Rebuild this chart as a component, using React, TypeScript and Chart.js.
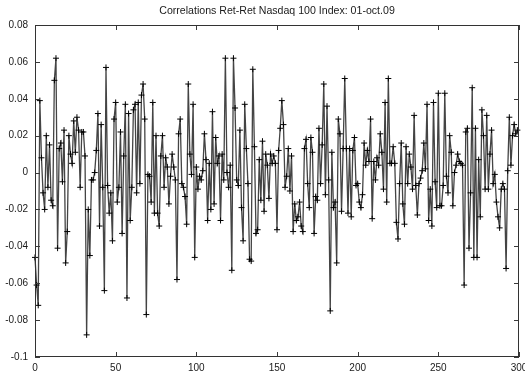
import { useEffect, useRef } from "react";
import { Chart, registerables } from "chart.js";

Chart.register(...registerables);

const titleText = "Correlations Ret-Ret Nasdaq 100 Index: 01-oct.09";

const xTickValues: number[] = [0, 50, 100, 150, 200, 250, 300];
const yTickValues: number[] = [-0.1, -0.08, -0.06, -0.04, -0.02, 0, 0.02, 0.04, 0.06, 0.08];

// Return-return correlations, one per observation (index 0..299)
const corrSeries: number[] = [
  -0.046, -0.061, -0.072, 0.039, 0.008, -0.011, -0.02, 0.02, -0.008, 0.015,
  -0.015, -0.018, 0.05, 0.062, -0.041, 0.013, 0.016, -0.005, 0.023, -0.049,
  -0.032, 0.02, 0.01, 0.005, 0.028, 0.011, 0.03, 0.023, -0.008, 0.022,
  0.022, 0.009, -0.088, -0.02, -0.045, -0.004, -0.004, 0.0, 0.012, 0.032,
  -0.029, 0.026, -0.008, -0.064, 0.057, -0.007, -0.022, -0.011, -0.037, 0.029,
  0.038, -0.016, -0.008, 0.022, -0.033, 0.009, 0.037, -0.068, 0.032, -0.026,
  -0.008, 0.034, 0.037, -0.011, 0.038, -0.006, 0.042, 0.048, 0.029, -0.077,
  -0.001, -0.002, -0.016, 0.038, -0.022, 0.02, -0.022, -0.029, 0.009, 0.02,
  -0.008, 0.008, 0.003, -0.017, -0.002, 0.01, 0.003, -0.004, -0.058, 0.021,
  0.029, -0.006, -0.008, -0.013, -0.028, 0.048, 0.01, -0.001, 0.037, -0.046,
  0.003, -0.009, -0.002, -0.004, 0.001, 0.021, 0.007, -0.026, 0.005, -0.02,
  0.033, -0.017, 0.019, 0.005, 0.009, -0.026, 0.01, -0.004, 0.062, 0.0,
  -0.008, 0.004, -0.053, 0.062, 0.035, -0.004, -0.007, 0.023, -0.019, -0.037,
  0.037, 0.013, -0.006, -0.047, -0.048, 0.056, 0.014, -0.033, -0.031, 0.007,
  -0.015, 0.017, -0.021, 0.01, 0.004, -0.014, 0.01, 0.005, 0.009, 0.005,
  -0.031, 0.012, 0.024, 0.039, 0.026, -0.008, -0.002, 0.013, -0.01, 0.009,
  -0.032, -0.017, -0.026, -0.024, -0.016, -0.029, -0.032, 0.013, 0.018, -0.006,
  -0.019, 0.019, 0.011, -0.033, -0.013, -0.015, 0.024, -0.006, 0.015, 0.048,
  -0.012, 0.036, -0.004, -0.075, 0.011, -0.019, -0.016, -0.049, 0.029, 0.021,
  -0.021, 0.013, 0.051, 0.013, -0.022, 0.013, -0.024, 0.012, 0.019, -0.007,
  -0.006, -0.016, -0.019, -0.012, 0.016, 0.004, 0.012, 0.006, 0.029, -0.025,
  0.006, -0.004, 0.008, 0.004, 0.021, 0.011, -0.009, 0.038, -0.016, 0.051,
  0.005, 0.005, 0.014, 0.005, -0.027, -0.036, -0.006, 0.016, -0.017, -0.028,
  0.014, -0.006, 0.01, 0.003, -0.009, 0.031, -0.007, -0.023, -0.006, -0.003,
  0.001, 0.016, 0.002, 0.037, -0.026, -0.009, -0.029, 0.038, -0.005, -0.019,
  0.043, -0.018, -0.018, -0.007, 0.043, -0.002, -0.011, 0.02, 0.011, -0.018,
  0.0, 0.004, 0.01, 0.006, 0.005, 0.004, -0.061, 0.022, 0.024, -0.041,
  -0.011, 0.046, -0.046, 0.024, -0.046, 0.007, -0.024, 0.034, 0.02, -0.009,
  0.031, -0.009, 0.01, 0.023, -0.006, -0.001, -0.016, -0.024, -0.03, -0.009,
  -0.006, -0.009, -0.052, 0.001, 0.03, 0.004, 0.02, 0.026, 0.021, 0.023,
];

const FONT = "'Liberation Sans', Arial, Helvetica, sans-serif";

const frameAndTicks = {
  id: "frameAndTicks",
  afterDatasetsDraw(chart: any) {
    const { ctx, chartArea: a, scales } = chart;
    const xs = scales.x;
    const ys = scales.y;
    const len = 5;
    ctx.save();
    ctx.strokeStyle = "#3a3a3a";
    ctx.lineWidth = 1;
    ctx.beginPath();
    xTickValues.forEach((v) => {
      const px = Math.round(xs.getPixelForValue(v)) + 0.5;
      ctx.moveTo(px, a.bottom);
      ctx.lineTo(px, a.bottom - len);
      ctx.moveTo(px, a.top);
      ctx.lineTo(px, a.top + len);
    });
    yTickValues.forEach((v) => {
      const py = Math.round(ys.getPixelForValue(v)) + 0.5;
      ctx.moveTo(a.left, py);
      ctx.lineTo(a.left + len, py);
      ctx.moveTo(a.right, py);
      ctx.lineTo(a.right - len, py);
    });
    ctx.stroke();
    ctx.strokeStyle = "#333";
    ctx.strokeRect(Math.round(a.left) + 0.5, Math.round(a.top) + 0.5, Math.round(a.right - a.left) - 1, Math.round(a.bottom - a.top) - 1);
    // title, centred over the plot area
    ctx.fillStyle = "#1a1a1a";
    ctx.font = `10.6px ${FONT}`;
    ctx.textAlign = "center";
    ctx.textBaseline = "middle";
    ctx.fillText(titleText, (a.left + a.right) / 2, 11);
    ctx.restore();
  },
};

export default function App() {
  const ref = useRef<HTMLCanvasElement | null>(null);

  useEffect(() => {
    if (!ref.current) return;
    const chart = new Chart(ref.current, {
      type: "line",
      data: {
        datasets: [
          {
            data: corrSeries.map((v, i) => ({ x: i, y: v })),
            borderColor: "#444",
            borderWidth: 1.3,
            pointStyle: "cross",
            pointRadius: 3,
            pointBorderColor: "#000",
            pointBorderWidth: 1,
            pointBackgroundColor: "#000",
            tension: 0,
            clip: false as any,
          },
        ],
      },
      plugins: [frameAndTicks],
      options: {
        animation: false,
        responsive: false,
        maintainAspectRatio: false,
        events: [],
        layout: { padding: { left: 0, right: 6, top: 25, bottom: 0 } },
        plugins: {
          legend: { display: false },
          tooltip: { enabled: false },
          title: { display: false },
        },
        scales: {
          x: {
            type: "linear",
            min: 0,
            max: 300,
            grid: { display: false, drawTicks: false },
            border: { display: false },
            afterBuildTicks: (s: any) => {
              s.ticks = xTickValues.map((v) => ({ value: v }));
            },
            afterFit: (s: any) => {
              s.height = 21;
              s.paddingLeft = 0;
              s.paddingRight = 0;
            },
            ticks: {
              color: "#1a1a1a",
              font: { family: FONT, size: 10 },
              padding: 5,
              maxRotation: 0,
              autoSkip: false,
              callback: (v: any) => String(v),
            },
          },
          y: {
            type: "linear",
            min: -0.1,
            max: 0.08,
            grid: { display: false, drawTicks: false },
            border: { display: false },
            afterBuildTicks: (s: any) => {
              s.ticks = yTickValues.map((v) => ({ value: v }));
            },
            afterFit: (s: any) => {
              s.width = 35;
              s.paddingTop = 0;
              s.paddingBottom = 0;
            },
            ticks: {
              color: "#1a1a1a",
              font: { family: FONT, size: 10 },
              padding: 7,
              autoSkip: false,
              callback: (v: any) => String(Math.round(Number(v) * 100) / 100),
            },
          },
        },
      },
    });
    return () => chart.destroy();
  }, []);

  return (
    <div style={{ position: "fixed", left: 0, top: 0, width: 525, height: 378, background: "#fff" }}>
      <canvas ref={ref} width={525} height={378} style={{ width: 525, height: 378, display: "block" }} />
    </div>
  );
}
